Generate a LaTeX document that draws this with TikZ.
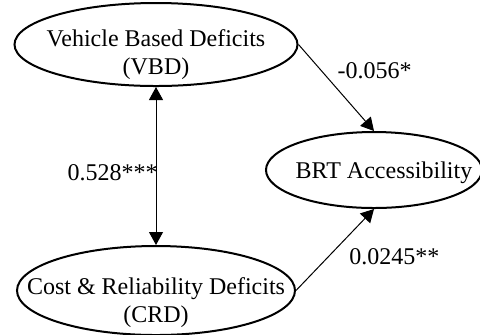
\documentclass[tikz,border=0pt]{standalone}
\usepackage{fontspec}
\setmainfont{Liberation Serif}
\usepackage{tikz}
\usetikzlibrary{arrows.meta, positioning, shapes.geometric}
\tikzset{%
  factor_ellipse/.style={%
    ellipse,%
    draw=black,%
    line width=1pt,%
    inner sep=0pt,%
  },
  factor_text/.style={%
    font={\fontsize{12}{14}\selectfont},%
    align=center,%
    inner sep=0pt,%
  },
  path_line/.style={%
    color=black,%
    line width=0.5pt,%
  },
  tip/.style={-{Triangle[length=6.5pt, width=7pt]}},
  both_tips/.style={{Triangle[length=6.5pt, width=7pt]}-{Triangle[length=6.5pt, width=7pt]}},
  coef_label/.style={%
    font={\fontsize{12}{14}\selectfont},%
    inner sep=0pt,%
  },
}

\begin{document}
\begin{tikzpicture}[x=0.5pt, y=-0.5pt]
  \useasboundingbox (0, 0) rectangle (480, 334);

    \node [factor_ellipse, minimum width=141.5pt, minimum height=41.5pt]
      (VBD) at (156, 44.5) {};
    \node [factor_ellipse, minimum width=139pt, minimum height=44.5pt,
      below = 79pt of VBD] (CRD) {};
    \node [factor_ellipse, minimum width=108pt, minimum height=38pt]
      (BRT) at (374, 170) {};

    \node [factor_text, yshift=-5pt] (VBD_text) at (VBD) {%
      Vehicle Based Deficits\\(VBD)%
    };
    \node [factor_text, yshift=-6pt] (CRD_text) at (CRD) {%
      Cost \& Reliability Deficits\\(CRD)%
    };
    \node [factor_text, xshift=5pt, yshift=-1.5pt] (BRT_text) at (BRT) {%
      BRT Accessibility%
    };

    \draw [both_tips, path_line]
      (VBD.south)
      --
      (CRD.north)
      node [coef_label, pos=0.544, anchor=east, xshift=1pt] (coef_VBD_CRD) {0.528***};
    \draw [tip, path_line]
      (VBD.east)
      --
      (BRT.north)
      node [coef_label, pos=0.3, anchor=west, xshift=8pt] (coef_VBD_BRT) {-0.056*};
    \draw [tip, path_line]
      (CRD.east)
      --
      (BRT.south)
      node [coef_label, pos=0.42, anchor=west, xshift=10pt] (coef_CRD_BRT) {0.0245**};
  \end{tikzpicture}
\end{document}
